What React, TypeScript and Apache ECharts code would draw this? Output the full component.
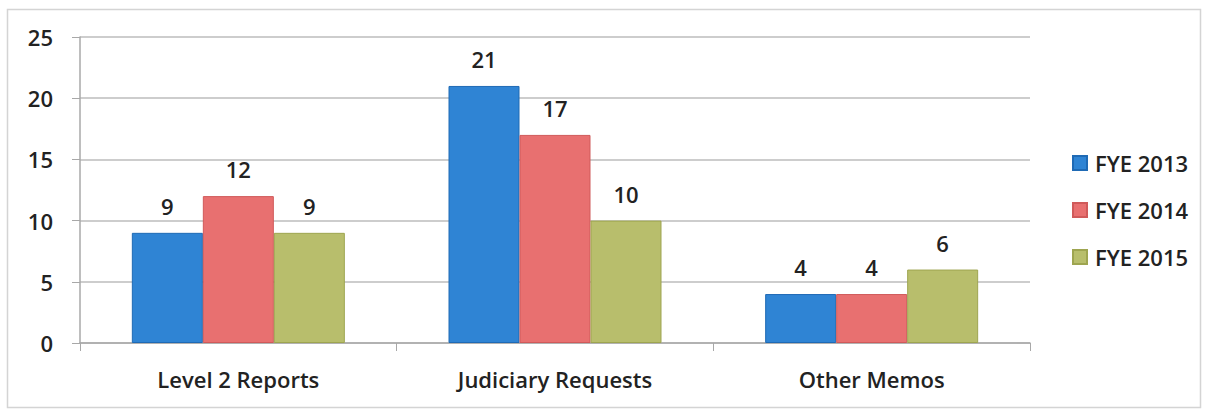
import React, { useEffect, useRef } from "react";
import * as echarts from "echarts";

const categories = ["Level 2 Reports", "Judiciary Requests", "Other Memos"];
const seriesNames = ["FYE 2013", "FYE 2014", "FYE 2015"];
const fye2013 = [9, 21, 4];
const fye2014 = [12, 17, 4];
const fye2015 = [9, 10, 6];
const yTicks = { min: 0, max: 25, interval: 5 };

const colors = ["#2f84d4", "#e87070", "#b8be6c"];
const borders = ["#1f6ab5", "#d05a5a", "#9ea550"];
const FONT = "'Open Sans', 'Noto Sans', sans-serif";

export default function App() {
  const ref = useRef<HTMLDivElement>(null);
  useEffect(() => {
    document.body.style.margin = "0";
    const chart = echarts.init(ref.current!, undefined, { renderer: "svg" });
    const data = [fye2013, fye2014, fye2015];
    chart.setOption({
      animation: false,
      backgroundColor: "#ffffff",
      textStyle: { fontFamily: FONT },
      graphic: [
        {
          type: "rect",
          shape: { x: 7.5, y: 9.5, width: 1193, height: 398 },
          style: { fill: "none", stroke: "#d4d4d4", lineWidth: 1.5 },
          silent: true,
          z: -1,
        },
      ],
      grid: { left: 80, right: 179, top: 37, bottom: 67, containLabel: false },
      legend: {
        orient: "vertical",
        left: 1067,
        top: 147,
        itemWidth: 14,
        itemHeight: 14,
        itemGap: 25,
        icon: "rect",
        data: seriesNames,
        textStyle: { fontSize: 22, fontWeight: 600, color: "#222", fontFamily: FONT, padding: [0, 0, 0, 3] },
      },
      xAxis: {
        type: "category",
        data: categories,
        axisLine: { show: true, lineStyle: { color: "#a8a8a8", width: 1.5 } },
        axisTick: { show: true, length: 8, lineStyle: { color: "#a8a8a8" } },
        axisLabel: { fontSize: 22, fontWeight: 600, color: "#222", margin: 25, fontFamily: FONT },
      },
      yAxis: {
        type: "value",
        min: yTicks.min,
        max: yTicks.max,
        interval: yTicks.interval,
        axisLine: { show: true, lineStyle: { color: "#a8a8a8", width: 1.5 } },
        axisTick: { show: true, length: 8, lineStyle: { color: "#a8a8a8" } },
        splitLine: { show: true, lineStyle: { color: "#bdbdbd", width: 1.5 } },
        axisLabel: { fontSize: 22, fontWeight: 600, color: "#222", margin: 27, fontFamily: FONT },
      },
      series: seriesNames.map((name, i) => ({
        name,
        type: "bar",
        data: data[i],
        barWidth: 71,
        barGap: "0%",
        itemStyle: { color: colors[i], borderColor: borders[i], borderWidth: 1 },
        label: {
          show: true,
          position: "top",
          distance: 16,
          fontSize: 22,
          fontWeight: 600,
          color: "#222",
          fontFamily: FONT,
        },
      })),
    });
    return () => chart.dispose();
  }, []);
  return <div ref={ref} style={{ width: 1209, height: 410 }} />;
}
